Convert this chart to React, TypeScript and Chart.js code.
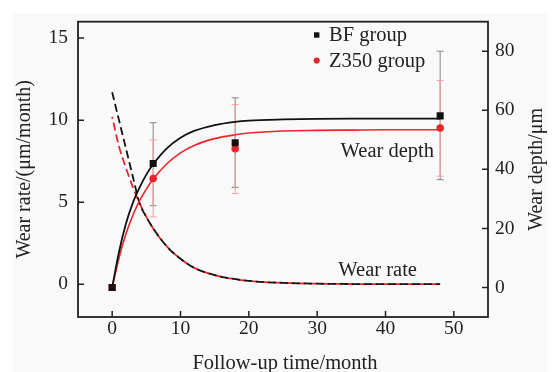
import React, { useEffect, useRef } from "react";
import { Chart, registerables } from "chart.js";

Chart.register(...registerables);

// ---- Data ----
const xTicks = [0, 10, 20, 30, 40, 50];
const leftTicks = [0, 5, 10, 15];
const rightTicks = [0, 20, 40, 60, 80];

// measured wear depth (μm) with error bars
const months = [0, 6, 18, 48];
const bfDepth = [0, 42.0, 49.0, 58.1];
const z350Depth = [0, 36.9, 47.0, 54.0];
const bfLow = [null, 27.7, 33.9, 36.5];
const bfHigh = [null, 55.8, 64.2, 80.0];
const z350Low = [null, 23.9, 31.8, 37.7];
const z350High = [null, 50.0, 61.9, 70.1];

// fitted wear depth curves (μm)
const fitMonths = [0, 1, 2, 3, 4, 5, 6, 8, 10, 12, 15, 18, 20, 25, 30, 35, 40, 48];
const bfDepthFit = [0, 12.0, 21.5, 28.5, 33.8, 38.2, 41.7, 47.1, 50.7, 53.0, 55.0, 56.1, 56.5, 56.9, 57.1, 57.2, 57.2, 57.2];
const z350DepthFit = [0, 10.0, 18.0, 24.3, 29.3, 33.3, 36.7, 41.9, 45.6, 48.1, 50.4, 51.7, 52.3, 53.0, 53.2, 53.3, 53.4, 53.4];

// fitted wear rate curves (μm/month)
const rateMonths = [0, 1, 2, 3, 4, 5, 6, 8, 10, 12, 15, 20, 25, 30, 35, 40, 48];
const bfRate = [11.7, 10.0, 8.3, 6.6, 4.95, 4.1, 3.4, 2.3, 1.55, 1.0, 0.55, 0.2, 0.08, 0.03, 0.01, 0, 0];
const z350Rate = [10.2, 8.4, 7.1, 5.95, 4.95, 4.1, 3.4, 2.3, 1.55, 1.0, 0.55, 0.2, 0.08, 0.03, 0.01, 0, 0];

const seriesNames = ["BF group", "Z350 group"];
const xTitle = "Follow-up time/month";
const yLeftTitle = "Wear rate/(μm/month)";
const yRightTitle = "Wear depth/μm";
const depthLabel = "Wear depth";
const rateLabel = "Wear rate";

// ---- Styles ----
const FONT = '"Liberation Serif", "DejaVu Serif", serif';
const TEXT = "#222";
const BLACK = "#111";
const RED = "#e8252a";
const ERR_GRAY = "#858585";
const ERR_RED = "#f2a0a0";

const pairs = (xs: number[], ys: (number | null)[]) => xs.map((x, i) => ({ x, y: ys[i] as number }));

const decorPlugin = {
  id: "decor",
  beforeDraw(chart: any) {
    const { ctx, width, height } = chart;
    ctx.save();
    ctx.fillStyle = "#ffffff";
    ctx.fillRect(0, 0, width, height);
    ctx.fillStyle = "#f9f9f9";
    ctx.fillRect(13, 13, 534, height - 13);
    ctx.restore();
  },
  beforeDatasetsDraw(chart: any) {
    const { ctx } = chart;
    const xs = chart.scales.x;
    const ys = chart.scales.y2;
    const drawBar = (x: number, lo: number, hi: number, color: string) => {
      const px = xs.getPixelForValue(x);
      const pl = ys.getPixelForValue(lo);
      const ph = ys.getPixelForValue(hi);
      ctx.strokeStyle = color;
      ctx.lineWidth = 1;
      ctx.beginPath();
      ctx.moveTo(px, pl);
      ctx.lineTo(px, ph);
      ctx.moveTo(px - 3.5, pl);
      ctx.lineTo(px + 3.5, pl);
      ctx.moveTo(px - 3.5, ph);
      ctx.lineTo(px + 3.5, ph);
      ctx.stroke();
    };
    ctx.save();
    months.forEach((m, i) => {
      if (bfLow[i] != null && bfHigh[i] != null) drawBar(m, bfLow[i] as number, bfHigh[i] as number, ERR_GRAY);
    });
    months.forEach((m, i) => {
      if (z350Low[i] != null && z350High[i] != null) drawBar(m, z350Low[i] as number, z350High[i] as number, ERR_RED);
    });
    ctx.restore();
  },
  afterDraw(chart: any) {
    const { ctx, chartArea } = chart;
    const { left, right, top, bottom } = chartArea;
    const xs = chart.scales.x;
    const yl = chart.scales.y;
    const yr = chart.scales.y2;
    ctx.save();
    // frame
    ctx.strokeStyle = "#222";
    ctx.lineWidth = 1.8;
    ctx.strokeRect(left, top, right - left, bottom - top);
    // inward ticks
    ctx.lineWidth = 1.5;
    ctx.beginPath();
    xTicks.forEach((v) => {
      const p = xs.getPixelForValue(v);
      ctx.moveTo(p, bottom);
      ctx.lineTo(p, bottom - 6);
    });
    leftTicks.forEach((v) => {
      const p = yl.getPixelForValue(v);
      ctx.moveTo(left, p);
      ctx.lineTo(left + 6, p);
    });
    rightTicks.forEach((v) => {
      const p = yr.getPixelForValue(v);
      ctx.moveTo(right, p);
      ctx.lineTo(right - 6, p);
    });
    ctx.stroke();

    ctx.fillStyle = TEXT;
    // axis titles
    ctx.font = `20.5px ${FONT}`;
    ctx.textAlign = "center";
    ctx.textBaseline = "alphabetic";
    ctx.fillText(xTitle, (left + right) / 2 + 2, 369);

    ctx.font = `20px ${FONT}`;
    ctx.save();
    ctx.translate(30, (top + bottom) / 2);
    ctx.rotate(-Math.PI / 2);
    ctx.fillText(yLeftTitle, 0, 0);
    ctx.restore();
    ctx.save();
    ctx.translate(541.5, (top + bottom) / 2);
    ctx.rotate(-Math.PI / 2);
    ctx.fillText(yRightTitle, 0, 0);
    ctx.restore();

    // curve annotations
    ctx.font = `20.5px ${FONT}`;
    ctx.textAlign = "right";
    ctx.fillText(depthLabel, xs.getPixelForValue(47.1), yr.getPixelForValue(44.1));
    ctx.textAlign = "left";
    ctx.fillText(rateLabel, xs.getPixelForValue(33.1), yl.getPixelForValue(0.5));

    // legend
    ctx.fillStyle = BLACK;
    ctx.fillRect(314, 32.3, 5.4, 5.4);
    ctx.fillStyle = RED;
    ctx.beginPath();
    ctx.arc(316.7, 60.5, 3.1, 0, Math.PI * 2);
    ctx.fill();
    ctx.fillStyle = TEXT;
    ctx.font = `20.5px ${FONT}`;
    ctx.textAlign = "left";
    ctx.fillText(seriesNames[0], 329, 40.7);
    ctx.fillText(seriesNames[1], 329, 66.5);
    ctx.restore();
  },
};

export default function App() {
  const ref = useRef<HTMLCanvasElement | null>(null);
  useEffect(() => {
    if (!ref.current) return;
    const tickFont = { family: FONT, size: 19.5 };
    const chart = new Chart(ref.current, {
      type: "line",
      data: {
        datasets: [
          {
            label: "BF depth fit",
            data: pairs(fitMonths, bfDepthFit),
            yAxisID: "y2",
            borderColor: BLACK,
            borderWidth: 1.8,
            pointRadius: 0,
            cubicInterpolationMode: "monotone",
          },
          {
            label: "Z350 depth fit",
            data: pairs(fitMonths, z350DepthFit),
            yAxisID: "y2",
            borderColor: RED,
            borderWidth: 1.6,
            pointRadius: 0,
            cubicInterpolationMode: "monotone",
          },
          {
            label: "BF rate",
            data: pairs(rateMonths, bfRate),
            yAxisID: "y",
            borderColor: BLACK,
            borderWidth: 1.8,
            borderDash: [8, 4],
            pointRadius: 0,
            cubicInterpolationMode: "monotone",
          },
          {
            label: "Z350 rate",
            data: pairs(rateMonths, z350Rate),
            yAxisID: "y",
            borderColor: RED,
            borderWidth: 1.8,
            borderDash: [8, 4],
            borderDashOffset: 6,
            pointRadius: 0,
            cubicInterpolationMode: "monotone",
          },
          {
            label: seriesNames[0],
            data: pairs(months, bfDepth),
            yAxisID: "y2",
            showLine: false,
            pointStyle: "rect",
            pointRadius: 5,
            pointBorderWidth: 0,
            pointBackgroundColor: BLACK,
            borderColor: BLACK,
          },
          {
            label: seriesNames[1],
            data: pairs(months, z350Depth),
            yAxisID: "y2",
            showLine: false,
            pointStyle: ["rect", "circle", "circle", "circle"],
            pointRadius: [5, 3.8, 3.8, 3.8],
            pointBorderWidth: 0,
            pointBackgroundColor: RED,
            borderColor: RED,
          },
        ],
      },
      options: {
        animation: false,
        responsive: false,
        maintainAspectRatio: false,
        layout: { padding: { top: 14, left: 0, right: 0, bottom: 0 } },
        plugins: { legend: { display: false }, tooltip: { enabled: false } },
        scales: {
          x: {
            type: "linear",
            position: "bottom",
            min: -5,
            max: 55,
            grid: { display: false, drawTicks: false },
            border: { display: false },
            ticks: { padding: 0, font: tickFont, color: TEXT, maxRotation: 0, autoSkip: false },
            afterBuildTicks: (s: any) => {
              s.ticks = xTicks.map((v) => ({ value: v }));
            },
            afterFit: (s: any) => {
              s.height = 55;
            },
          },
          y: {
            type: "linear",
            position: "left",
            min: -2,
            max: 16,
            grid: { display: false, drawTicks: false },
            border: { display: false },
            ticks: { padding: 10, font: tickFont, color: TEXT, autoSkip: false },
            afterBuildTicks: (s: any) => {
              s.ticks = leftTicks.map((v) => ({ value: v }));
            },
            afterFit: (s: any) => {
              s.width = 78;
            },
          },
          y2: {
            type: "linear",
            position: "right",
            min: -10,
            max: 90,
            grid: { display: false, drawTicks: false },
            border: { display: false },
            ticks: { padding: 7, font: tickFont, color: TEXT, autoSkip: false },
            afterBuildTicks: (s: any) => {
              s.ticks = rightTicks.map((v) => ({ value: v }));
            },
            afterFit: (s: any) => {
              s.width = 67;
            },
          },
        },
      },
      plugins: [decorPlugin],
    } as any);
    return () => chart.destroy();
  }, []);
  return (
    <canvas
      ref={ref}
      width={555}
      height={372}
      style={{ position: "absolute", left: 0, top: 0, width: 555, height: 372 }}
    />
  );
}
